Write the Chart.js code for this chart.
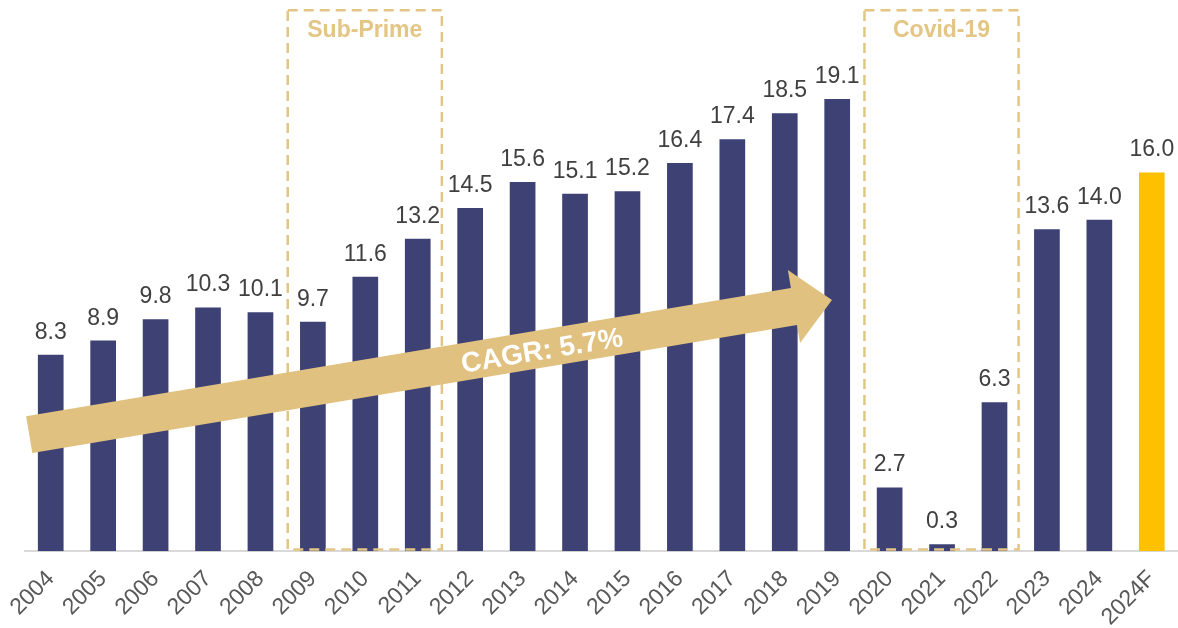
<!DOCTYPE html>
<html>
<head>
<meta charset="utf-8">
<script src="https://cdn.jsdelivr.net/npm/chart.js@4.4.0/dist/chart.umd.min.js"></script>
<style>
  html, body { margin: 0; padding: 0; background: #fff; }
  #wrap { width: 1178px; height: 628px; position: relative; }
</style>
</head>
<body>
<div id="wrap"><canvas id="chart"></canvas></div>
<script>
const years = [
    "2004", "2005", "2006", "2007", "2008", "2009", "2010", "2011",
    "2012", "2013", "2014", "2015", "2016", "2017", "2018", "2019",
    "2020", "2021", "2022", "2023", "2024", "2024F",
];
const values = [
    8.3, 8.9, 9.8, 10.3, 10.1, 9.7, 11.6, 13.2,
    14.5, 15.6, 15.1, 15.2, 16.4, 17.4, 18.5, 19.1,
    2.7, 0.3, 6.3, 13.6, 14.0, 16.0,
];
const forecastYear = "2024F";

// shaded-out periods (first year, last year, title)
const periodTitles = ["Sub-Prime", "Covid-19"];
const periodFrom = ["2009", "2020"];
const periodTo = ["2011", "2022"];

const cagrText = "CAGR: 5.7%";

const NAVY = "#3d4174";
const GOLD = "#ffc000";
const SAND = "#e0c17f";
const DASH = "#e3c584";
const FONT = "'Liberation Sans', Arial, sans-serif";

// boxes + arrow + value labels
const overlay = {
    id: "overlay",
    afterDatasetsDraw(chart) {
        const ctx = chart.ctx;
        const x = chart.scales.x;
        const y = chart.scales.y;

        // dashed period boxes
        ctx.save();
        periodTitles.forEach((title, i) => {
            const a = years.indexOf(periodFrom[i]);
            const b = years.indexOf(periodTo[i]);
            const left = x.getPixelForValue(a - 0.48);
            const right = x.getPixelForValue(b + 0.46);
            const top = y.getPixelForValue(22.85);
            const bottom = y.getPixelForValue(0.08);
            ctx.setLineDash([10, 6]);
            ctx.lineWidth = 2.5;
            ctx.strokeStyle = DASH;
            ctx.strokeRect(left, top, right - left, bottom - top);
            ctx.setLineDash([]);
            ctx.fillStyle = DASH;
            ctx.font = "bold 23px " + FONT;
            ctx.textAlign = "center";
            ctx.textBaseline = "middle";
            ctx.fillText(title, (left + right) / 2, top + 20);
        });
        ctx.restore();

        // CAGR arrow, from the start of the axis up to 2019
        const p0 = { x: x.getPixelForValue(-0.41), y: y.getPixelForValue(4.93) };
        const p1 = { x: x.getPixelForValue(14.9), y: y.getPixelForValue(10.61) };
        const dx = p1.x - p0.x;
        const dy = p1.y - p0.y;
        const len = Math.hypot(dx, dy);
        const ux = dx / len, uy = dy / len;
        const nx = -uy, ny = ux;
        const shaft = 18.7, head = 37, headLen = 38.5;
        const bx = p1.x - ux * headLen, by = p1.y - uy * headLen;
        ctx.save();
        ctx.fillStyle = SAND;
        ctx.beginPath();
        ctx.moveTo(p0.x - nx * shaft, p0.y - ny * shaft);
        ctx.lineTo(bx - nx * shaft, by - ny * shaft);
        ctx.lineTo(bx - nx * head, by - ny * head);
        ctx.lineTo(p1.x, p1.y);
        ctx.lineTo(bx + nx * head, by + ny * head);
        ctx.lineTo(bx + nx * shaft, by + ny * shaft);
        ctx.lineTo(p0.x + nx * shaft, p0.y + ny * shaft);
        ctx.closePath();
        ctx.fill();

        const t = 0.67;
        ctx.translate(p0.x + (bx - p0.x) * t, p0.y + (by - p0.y) * t);
        ctx.rotate(Math.atan2(dy, dx));
        ctx.fillStyle = "#ffffff";
        ctx.font = "bold 28px " + FONT;
        ctx.textAlign = "center";
        ctx.textBaseline = "middle";
        ctx.fillText(cagrText, 0, 3);
        ctx.restore();

        // value labels
        ctx.save();
        ctx.fillStyle = "#404040";
        ctx.font = "23px " + FONT;
        ctx.textAlign = "center";
        ctx.textBaseline = "alphabetic";
        chart.getDatasetMeta(0).data.forEach((bar, i) => {
            ctx.fillText(values[i].toFixed(1), bar.x, bar.y - 16);
        });
        ctx.restore();
    },
};

const chart = new Chart(document.getElementById("chart"), {
    type: "bar",
    data: {
        labels: years,
        datasets: [
            {
                data: values,
                backgroundColor: years.map((yr) => (yr === forecastYear ? GOLD : NAVY)),
                barPercentage: 0.49,
                categoryPercentage: 1,
            },
        ],
    },
    options: {
        responsive: true,
        maintainAspectRatio: false,
        animation: false,
        layout: { padding: { left: 24, right: -4, top: 9, bottom: -17 } },
        plugins: {
            legend: { display: false },
            tooltip: { enabled: false },
        },
        scales: {
            x: {
                grid: { display: false, drawTicks: false },
                border: { display: true, color: "#d9d9d9", width: 2 },
                ticks: {
                    color: "#595959",
                    font: { family: FONT, size: 23 },
                    minRotation: 45,
                    maxRotation: 45,
                    padding: 14,
                },
                afterFit(scale) {
                    // rotated last label should not pull the plot in from the right
                    scale.paddingRight = 0;
                },
            },
            y: {
                display: false,
                min: 0,
                max: 22.9,
            },
        },
    },
    plugins: [overlay],
});
</script>
</body>
</html>
